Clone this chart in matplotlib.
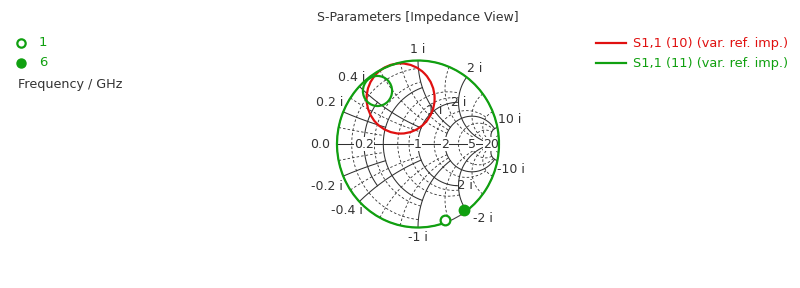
import numpy as np
import matplotlib
matplotlib.use("Agg")
import matplotlib.pyplot as plt
from matplotlib.patches import Arc, Circle

# chart geometry in the picture (pixels)
W, H = 800, 288
CX, CY = 418, 144
RX, RY = 81, 83.5

# traces (reflection plane, u/v)
red_center = (-0.215, 0.545)
red_radius = 0.42
green_loop_center = (-0.50, 0.635)
green_loop_radius = 0.18
green_arc_start_deg = -54.0   # 6 GHz end
green_arc_end_deg = 290.0     # 1 GHz end (-70 deg)
red_edge_arc = (-58.0, -55.0)

# frequency markers (GHz) and where they sit
marker_freqs = ["1", "6"]
marker_u = [0.335, 0.565]
marker_v = [-0.915, -0.79]

# grid: (value, extent) pairs
major_r = [(0.2, 0.4), (0.4, 1.0), (1.0, 2.0), (2.0, 10.0)]
major_x = [(0.2, 0.4), (0.4, 1.0), (1.0, 2.0), (2.0, 10.0), (10.0, 20.0)]
minor_r = [(0.1, 1.0), (0.3, 1.0), (0.6, 2.0), (0.8, 2.0), (1.5, 5.0),
           (3.0, 10.0), (5.0, 10.0), (20.0, 50.0)]
minor_x = [(0.1, 0.4), (0.3, 1.0), (0.6, 2.0), (0.8, 2.0), (1.5, 5.0),
           (3.0, 10.0), (5.0, 10.0), (20.0, 50.0)]

real_labels = ["0.0", "0.2", "1", "2", "5", "20"]
real_values = [0.0, 0.2, 1.0, 2.0, 5.0, 20.0]

RED = "#e01010"
GREEN = "#10a010"
TXT = "#333333"
GRID = "#303030"


def gamma(z):
    return (z - 1) / (z + 1)


def r_circle(r, xmax):
    t = np.linspace(-np.arctan(xmax), np.arctan(xmax), 300)
    g = gamma(r + 1j * np.tan(t))
    return g.real, g.imag


def x_arc(x, rmax):
    t = np.linspace(0, np.arctan(rmax), 300)
    g = gamma(np.tan(t) + 1j * x)
    return g.real, g.imag


fig = plt.figure(figsize=(W / 100, H / 100), dpi=100)
ax = fig.add_axes([0, 0, 1, 1])
ax.set_xlim(-CX / RX, (W - CX) / RX)
ax.set_ylim(-(H - CY) / RY, CY / RY)
ax.axis("off")

# grid lines
for r, xm in minor_r:
    u, v = r_circle(r, xm)
    ax.plot(u, v, color=GRID, lw=0.6, ls=(0, (3, 2.5)), zorder=1)
for x, rm in minor_x:
    for s in (1, -1):
        u, v = x_arc(s * x, rm)
        ax.plot(u, v, color=GRID, lw=0.6, ls=(0, (3, 2.5)), zorder=1)
for r, xm in major_r:
    u, v = r_circle(r, xm)
    ax.plot(u, v, color=GRID, lw=0.75, zorder=1)
for x, rm in major_x:
    for s in (1, -1):
        u, v = x_arc(s * x, rm)
        ax.plot(u, v, color=GRID, lw=0.75, zorder=1)
ax.plot([-1, 1], [0, 0], color=GRID, lw=0.75, zorder=1)
ax.add_patch(Circle((0, 0), 1, fill=False, ec="#444444", lw=0.8, zorder=1))

# real axis labels
for lab, val in zip(real_labels, real_values):
    if lab == "0.0":
        ax.annotate(lab, (-1.0, 0), xytext=(-7, 0), textcoords="offset pixels",
                    ha="right", va="center", fontsize=9, color=TXT,
                    bbox=dict(fc="white", ec="none", pad=0.2), zorder=3)
        continue
    ax.text(gamma(val), 0, lab, ha="center", va="center", fontsize=9, color=TXT,
            bbox=dict(fc="white", ec="none", pad=0.2), zorder=3)

# reactance labels (value, offset in pixels)
edge_labels = [("1 i", 1j, (0, 11)), ("0.4 i", 0.4j, (-8, 9)),
               ("0.2 i", 0.2j, (-14, 9)), ("2 i", 2j, (8, 9)),
               ("10 i", 10j, (12, 8)), ("-10 i", -10j, (14, -9)),
               ("-2 i", -2j, (16, -8)), ("-1 i", -1j, (0, -10)),
               ("-0.4 i", -0.4j, (-12, -9)), ("-0.2 i", -0.2j, (-16, -10))]
for lab, z, off in edge_labels:
    g = gamma(z)
    ax.annotate(lab, (g.real, g.imag), xytext=off, textcoords="offset pixels",
                ha="center", va="center", fontsize=9, color=TXT, zorder=3)
inner_labels = [("1 i", 1 + 1j, (0, 0)), ("2 i", 1 + 2j, (0, 0)),
                ("-2 i", 1 - 2j, (4, 0))]
for lab, z, off in inner_labels:
    g = gamma(z)
    ax.annotate(lab, (g.real, g.imag), xytext=off, textcoords="offset pixels",
                ha="center", va="center", fontsize=9, color=TXT, zorder=3)

# traces
ax.add_patch(Arc((0, 0), 2, 2, theta1=red_edge_arc[0], theta2=red_edge_arc[1],
                 color=RED, lw=1.6, zorder=4))
ax.add_patch(Circle(red_center, red_radius, fill=False, ec=RED, lw=1.6, zorder=4))
ax.add_patch(Arc((0, 0), 2, 2, theta1=green_arc_start_deg,
                 theta2=green_arc_end_deg, color=GREEN, lw=1.6, zorder=5))
ax.add_patch(Circle(green_loop_center, green_loop_radius, fill=False,
                    ec=GREEN, lw=1.6, zorder=5))
ax.plot(marker_u[0], marker_v[0], "o", ms=7, mfc="white", mec=GREEN, mew=1.6, zorder=6)
ax.plot(marker_u[1], marker_v[1], "o", ms=7.5, mfc=GREEN, mec=GREEN, zorder=6)

# title
fig.text(CX / W, 1 - 17 / H, "S-Parameters [Impedance View]", ha="center",
         va="center", fontsize=9, color=TXT)

# marker legend (left)
fig.lines.append(plt.Line2D([21 / W], [1 - 43 / H], marker="o", ms=6, mfc="white",
                            mec=GREEN, mew=1.6, transform=fig.transFigure))
fig.lines.append(plt.Line2D([21 / W], [1 - 63 / H], marker="o", ms=6.5, mfc=GREEN,
                            mec=GREEN, transform=fig.transFigure))
fig.text(39 / W, 1 - 43 / H, marker_freqs[0], ha="left", va="center",
         fontsize=9.5, color=GREEN)
fig.text(39 / W, 1 - 63 / H, marker_freqs[1], ha="left", va="center",
         fontsize=9.5, color=GREEN)
fig.text(18 / W, 1 - 84 / H, "Frequency / GHz", ha="left", va="center",
         fontsize=9.2, color=TXT)

# curve legend (right)
legend_names = ["S1,1 (10) (var. ref. imp.)", "S1,1 (11) (var. ref. imp.)"]
legend_colors = [RED, GREEN]
for k, (name, col) in enumerate(zip(legend_names, legend_colors)):
    y = 1 - (43 + 20 * k) / H
    fig.lines.append(plt.Line2D([596 / W, 626 / W], [y, y], color=col, lw=1.6,
                                transform=fig.transFigure))
    fig.text(633 / W, y, name, ha="left", va="center", fontsize=9.3, color=col)

fig.savefig("out.png", dpi=100)
